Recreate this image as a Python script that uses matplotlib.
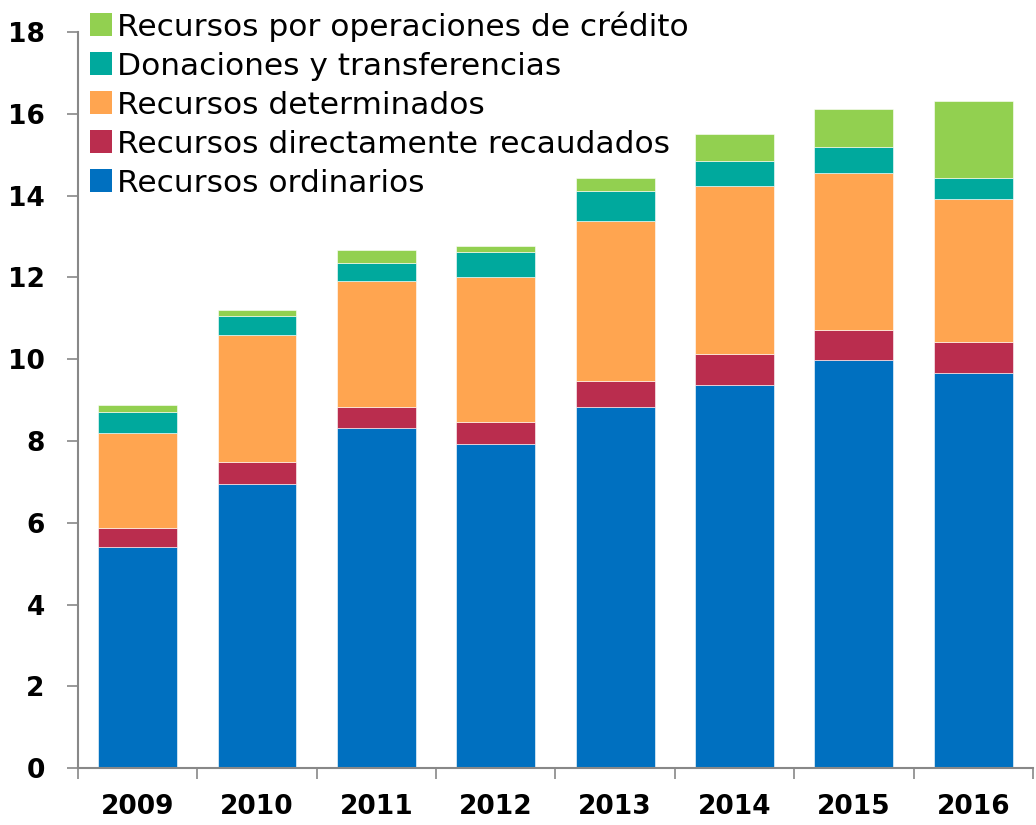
import numpy as np
import matplotlib
matplotlib.use("Agg")
import matplotlib.pyplot as plt
from matplotlib.patches import Patch

plt.rcParams['font.family'] = ['DejaVu Sans']

# Presupuesto por fuente de financiamiento (miles de millones)
years = ['2009', '2010', '2011', '2012', '2013', '2014', '2015', '2016']
ordinarios = [5.40, 6.96, 8.31, 7.92, 8.82, 9.38, 9.98, 9.67]
directos = [0.46, 0.53, 0.52, 0.55, 0.64, 0.75, 0.73, 0.75]
determinados = [2.33, 3.10, 3.08, 3.53, 3.93, 4.10, 3.85, 3.49]
donaciones = [0.52, 0.46, 0.44, 0.62, 0.72, 0.62, 0.62, 0.52]
credito = [0.18, 0.15, 0.31, 0.14, 0.32, 0.66, 0.93, 1.89]

series = [
    ('Recursos ordinarios', ordinarios, '#0070C0'),
    ('Recursos directamente recaudados', directos, '#BA2D4E'),
    ('Recursos determinados', determinados, '#FFA550'),
    ('Donaciones y transferencias', donaciones, '#00A99D'),
    ('Recursos por operaciones de crédito', credito, '#92D050'),
]

fig = plt.figure(figsize=(10.36, 8.25), dpi=100)
ax = fig.add_axes([0.0753, 0.069, 0.9217, 0.892])

x = np.arange(len(years))
bottom = np.zeros(len(years))
for name, vals, color in series:
    ax.bar(x, vals, width=0.66, bottom=bottom, color=color, label=name,
           edgecolor='white', linewidth=0.4)
    bottom += np.array(vals)

ax.set_ylim(0, 18)
ax.set_xlim(-0.5, len(years) - 0.5)
ax.set_yticks(np.arange(0, 19, 2))
ax.set_yticklabels([str(v) for v in range(0, 19, 2)], fontsize=19, fontweight='bold')

# category separators as major ticks, labels on minor ticks
ax.set_xticks(np.arange(-0.5, len(years), 1))
ax.set_xticklabels([])
ax.set_xticks(x, minor=True)
ax.set_xticklabels(years, minor=True, fontsize=19, fontweight='bold')
ax.tick_params(axis='x', which='major', length=8, width=1.2, color='#888888')
ax.tick_params(axis='x', which='minor', length=0, pad=19)
ax.tick_params(axis='y', length=8, width=1.2, color='#888888', pad=16)

for s in ['top', 'right']:
    ax.spines[s].set_visible(False)
for s in ['left', 'bottom']:
    ax.spines[s].set_color('#888888')
    ax.spines[s].set_linewidth(1.5)

handles = [Patch(facecolor=c, label=n) for n, _, c in series][::-1]
ax.legend(handles=handles, loc='upper left', bbox_to_anchor=(-0.004, 1.05),
          frameon=False, fontsize=22.5, handlelength=0.72, handleheight=0.72,
          handletextpad=0.15, labelspacing=0.32, borderaxespad=0.1)

fig.savefig('out.png', dpi=100)
